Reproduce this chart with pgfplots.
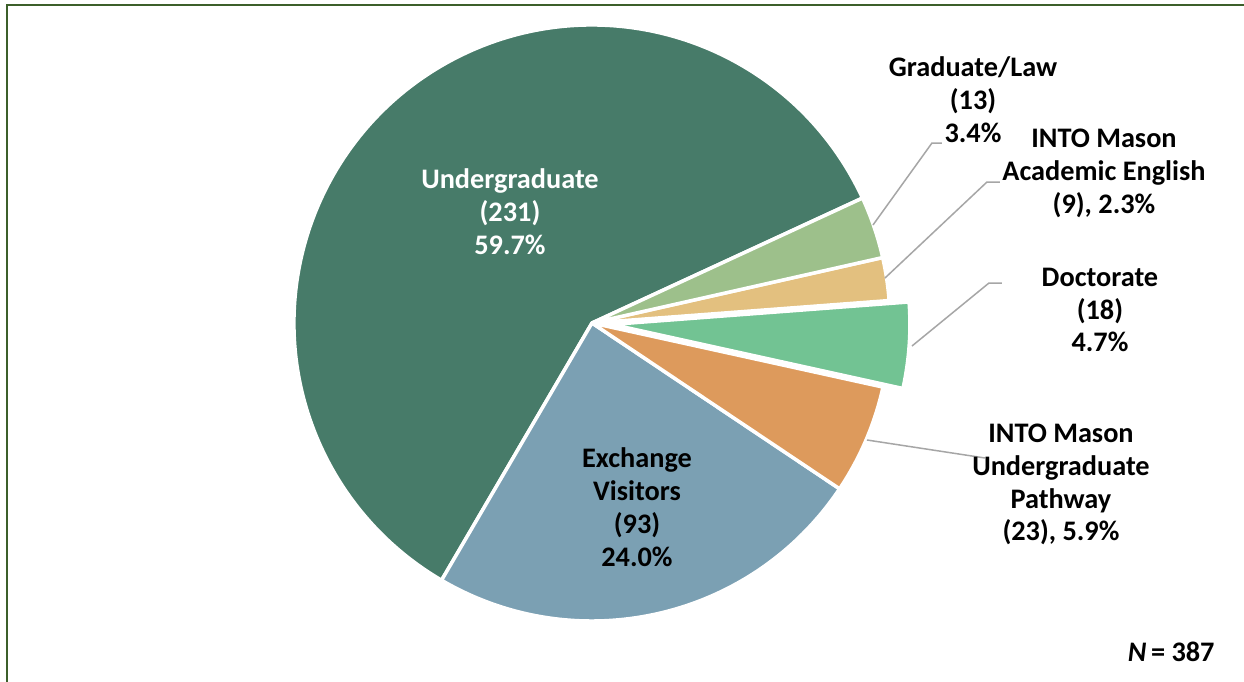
\documentclass[border=0pt]{standalone}
\usepackage{fontspec}
\setmainfont{Carlito}
\usepackage{pgfplots}
\usepackage{pgfplotstable}
\pgfplotsset{compat=1.18}
\definecolor{cUnder}{HTML}{477B69}
\definecolor{cExch}{HTML}{7BA0B3}
\definecolor{cPath}{HTML}{DD9A5C}
\definecolor{cDoc}{HTML}{72C393}
\definecolor{cAcad}{HTML}{E3C07F}
\definecolor{cGrad}{HTML}{9DC08B}
\definecolor{cFrame}{HTML}{3C5F2A}
\definecolor{cLead}{HTML}{A6A6A6}

\pgfplotstableread{
cat value explode
Undergraduate 231 0
Exchange 93 0
Pathway 23 0
Doctorate 18 20
AcademicEnglish 9 0
GraduateLaw 13 0
}\piedata

\newcommand\getv[2]{\pgfplotstablegetelem{#1}{value}\of\piedata\pgfmathsetmacro#2{\pgfplotsretval}}
\newcommand\gete[2]{\pgfplotstablegetelem{#1}{explode}\of\piedata\pgfmathsetmacro#2{\pgfplotsretval}}

% slice: start angle, end angle, colour, explode (px)
\newcommand\slice[4]{%
  \pgfmathsetmacro\sMid{(#1+#2)/2}%
  \pgfmathsetmacro\sX{592+#4*cos(\sMid)}%
  \pgfmathsetmacro\sY{359+#4*sin(\sMid)}%
  \edef\doslice{\noexpand\filldraw[fill=#3,draw=white,line width=1.75bp,line join=round]
    (axis cs:\sX,\sY) -- ++(#1:149bp) arc[start angle=#1,end angle=#2,radius=149bp] -- cycle;}%
  \doslice}

\begin{document}
\begin{tikzpicture}
\getv{0}\vA \getv{1}\vB \getv{2}\vC \getv{3}\vD \getv{4}\vE \getv{5}\vF
\gete{3}\eD
\pgfmathsetmacro\tot{\vA+\vB+\vC+\vD+\vE+\vF}
\pgfmathsetmacro\aA{24.8}
\pgfmathsetmacro\aB{\aA+360*(\vA/\tot)}
\pgfmathsetmacro\aC{\aB+360*(\vB/\tot)}
\pgfmathsetmacro\aD{\aC+360*(\vC/\tot)}
\pgfmathsetmacro\aE{\aD+360*(\vD/\tot)}
\pgfmathsetmacro\aF{\aE+360*(\vE/\tot)}
\pgfmathsetmacro\aG{\aF+360*(\vF/\tot)}
\begin{axis}[
  x=0.5bp, y=0.5bp,
  xmin=0, xmax=1244, ymin=0, ymax=682,
  hide axis, clip=false,
  anchor=origin, at={(0,0)},
]
\fill[white] (axis cs:0,0) rectangle (axis cs:1244,682);
% frame
\draw[cFrame, line width=1.25bp] (axis cs:7,0) -- (axis cs:7,677) -- (axis cs:1244,677);
% slices
\slice{\aA}{\aB}{cUnder}{0}
\slice{\aB}{\aC}{cExch}{0}
\slice{\aC}{\aD}{cPath}{0}
\slice{\aD}{\aE}{cDoc}{\eD}
\slice{\aE}{\aF}{cAcad}{0}
\slice{\aF}{\aG}{cGrad}{0}
% leader lines
\draw[cLead, line width=0.75bp] (axis cs:873,457) -- (axis cs:932,539) -- (axis cs:942,539);
\draw[cLead, line width=0.75bp] (axis cs:885,404) -- (axis cs:987,500) -- (axis cs:1000,500);
\draw[cLead, line width=0.75bp] (axis cs:912,336) -- (axis cs:989,399) -- (axis cs:1002,399);
\draw[cLead, line width=0.75bp] (axis cs:867,242) -- (axis cs:985,224);
% labels
\tikzset{lab/.style={align=center, inner sep=0pt, font=\fontsize{14.2}{16.5}\selectfont\bfseries}}
\node[lab, text=white] at (axis cs:510,470) {Undergraduate\\(231)\\59.7\%};
\node[lab] at (axis cs:637,174.5) {Exchange\\Visitors\\(93)\\24.0\%};
\node[lab] at (axis cs:973,582) {Graduate/Law\\(13)\\3.4\%};
\node[lab] at (axis cs:1104,509) {INTO Mason\\Academic English\\(9), 2.3\%};
\node[lab] at (axis cs:1100,372) {Doctorate\\(18)\\4.7\%};
\node[lab] at (axis cs:1061,197.5) {INTO Mason\\Undergraduate\\Pathway\\(23), 5.9\%};
\node[lab, anchor=east] at (axis cs:1215,30) {\textit{N}\,= 387};
\end{axis}
\pgfresetboundingbox
\useasboundingbox (0,0) rectangle (622bp,341bp);
\end{tikzpicture}
\end{document}
